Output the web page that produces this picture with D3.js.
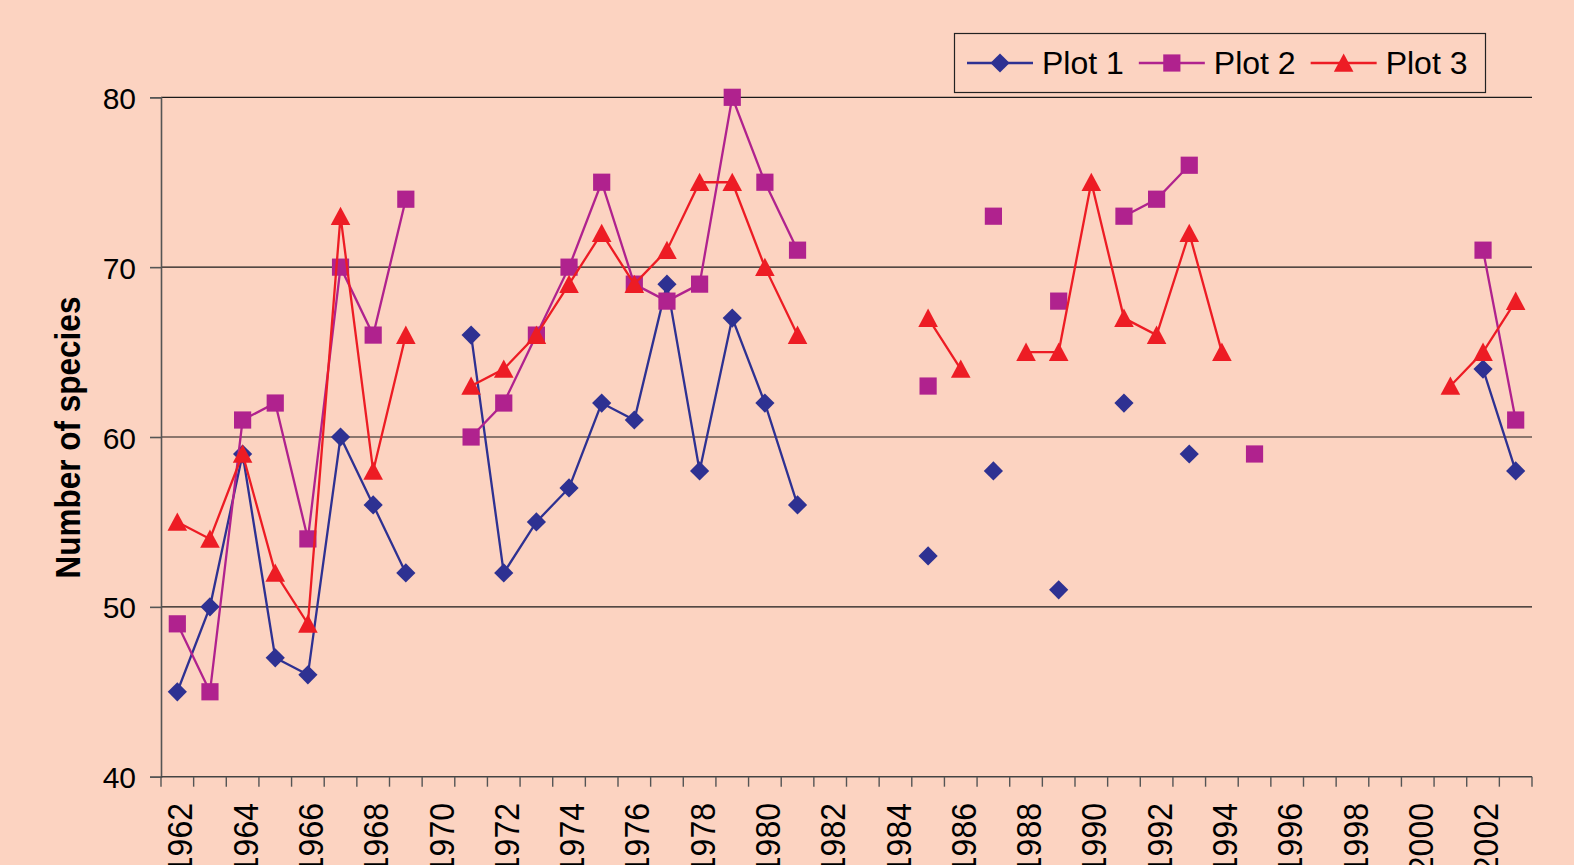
<!DOCTYPE html>
<html>
<head>
<meta charset="utf-8">
<script src="https://cdn.jsdelivr.net/npm/d3@7"></script>
<style>
  html, body { margin: 0; padding: 0; background: #FCD3C1; }
  #chart { width: 1574px; height: 865px; }
  text { font-family: "Liberation Sans", Arial, sans-serif; fill: #000; }
</style>
</head>
<body>
<div id="chart"></div>
<script>
const width = 1574;
const height = 865;

const years = d3.range(1962, 2004);

// species counts per year, null = not surveyed
const plot1 = [45, 50, 59, 47, 46, 60, 56, 52, null, 66, 52, 55, 57, 62, 61, 69, 58, 67, 62, 56,
    null, null, null, 53, null, 58, null, 51, null, 62, null, 59, null, null, null, null, null, null, null, null, 64, 58];
const plot2 = [49, 45, 61, 62, 54, 70, 66, 74, null, 60, 62, 66, 70, 75, 69, 68, 69, 80, 75, 71,
    null, null, null, 63, null, 73, null, 68, null, 73, 74, 76, null, 59, null, null, null, null, null, null, 71, 61];
const plot3 = [55, 54, 59, 52, 49, 73, 58, 66, null, 63, 64, 66, 69, 72, 69, 71, 75, 75, 70, 66,
    null, null, null, 67, 64, null, 65, 65, 75, 67, 66, 72, 65, null, null, null, null, null, null, 63, 65, 68];

const seriesNames = ["Plot 1", "Plot 2", "Plot 3"];
const seriesColors = ["#2E3192", "#B0228E", "#ED1C24"];

const yTicks = [40, 50, 60, 70, 80];
const xLabelYears = years.filter(y => (y - 1962) % 2 === 0);

// Excel-like marker shapes (size arg ignored, fixed pixel sizes)
const diamond = { draw(ctx) { const r = 9.6; ctx.moveTo(0, -r); ctx.lineTo(r, 0); ctx.lineTo(0, r); ctx.lineTo(-r, 0); ctx.closePath(); } };
const square = { draw(ctx) { const r = 8.6; ctx.rect(-r, -r, 2 * r, 2 * r); } };
const triangle = { draw(ctx) { ctx.moveTo(0, -9.5); ctx.lineTo(9.8, 8.8); ctx.lineTo(-9.8, 8.8); ctx.closePath(); } };
const seriesShapes = [diamond, square, triangle];

const svg = d3.select("#chart").append("svg")
    .attr("width", width)
    .attr("height", height);

svg.append("rect")
    .attr("width", width)
    .attr("height", height)
    .attr("fill", "#FCD3C1");

const plotLeft = 161, plotRight = 1532, plotTop = 97.3, plotBottom = 776.7;

const x = d3.scaleBand().domain(years).range([plotLeft, plotRight]).padding(0);
const y = d3.scaleLinear().domain([40, 80]).range([plotBottom, plotTop]);

// gridlines
svg.append("g")
    .selectAll("line")
    .data(yTicks.filter(t => t > 40))
    .enter().append("line")
    .attr("x1", plotLeft)
    .attr("x2", plotRight)
    .attr("y1", d => y(d))
    .attr("y2", d => y(d))
    .attr("stroke", "#1a1a1a")
    .attr("stroke-width", 1.2);

// y axis
const yAxis = svg.append("g")
    .attr("transform", `translate(${plotLeft},0)`)
    .call(d3.axisLeft(y).tickValues(yTicks).tickSize(11).tickPadding(14));
yAxis.select(".domain").attr("stroke", "#555").attr("stroke-width", 1.6);
yAxis.selectAll(".tick line").attr("stroke", "#555").attr("stroke-width", 1.6);
yAxis.selectAll(".tick text")
    .attr("dy", null)
    .attr("y", 11)
    .style("font-size", "30px")
    .style("font-family", "'Liberation Sans', Arial, sans-serif")
    .attr("fill", "#000");

// x axis, ticks at category boundaries
const xAxisG = svg.append("g").attr("class", "x-axis");
xAxisG.append("line")
    .attr("x1", plotLeft).attr("x2", plotRight)
    .attr("y1", plotBottom).attr("y2", plotBottom)
    .attr("stroke", "#444").attr("stroke-width", 1.6);
xAxisG.selectAll(".tk")
    .data(years.concat([2004]))
    .enter().append("line")
    .attr("class", "tk")
    .attr("x1", d => d === 2004 ? plotRight : x(d))
    .attr("x2", d => d === 2004 ? plotRight : x(d))
    .attr("y1", plotBottom)
    .attr("y2", plotBottom + 10)
    .attr("stroke", "#555")
    .attr("stroke-width", 1.4);
xAxisG.selectAll(".lbl")
    .data(xLabelYears)
    .enter().append("text")
    .attr("class", "lbl")
    .attr("text-anchor", "end")
    .attr("dy", "0.36em")
    .style("font-size", "32px")
    .attr("transform", d => `translate(${x(d) + x.bandwidth() / 2 + 2.7},803) rotate(-90) scale(1,1.08)`)
    .text(d => d);

// y axis title
svg.append("text")
    .attr("text-anchor", "middle")
    .attr("transform", "translate(80,437.5) rotate(-90) scale(1,1.1)")
    .style("font-size", "31.5px")
    .style("font-weight", "bold")
    .text("Number of species");

// series
const allSeries = [plot1, plot2, plot3].map((vals, i) => ({
    name: seriesNames[i],
    color: seriesColors[i],
    shape: seriesShapes[i],
    values: years.map((yr, j) => ({ year: yr, v: vals[j] }))
}));

const line = d3.line()
    .defined(d => d.v != null)
    .x(d => x(d.year) + x.bandwidth() / 2)
    .y(d => y(d.v));

allSeries.forEach((s, i) => {
    const g = svg.append("g");
    g.append("path")
        .datum(s.values)
        .attr("d", line)
        .attr("fill", "none")
        .attr("stroke", s.color)
        .attr("stroke-width", 2.3);
    g.selectAll("path.mk")
        .data(s.values.filter(d => d.v != null))
        .enter().append("path")
        .attr("class", "mk")
        .attr("d", d3.symbol().type(s.shape))
        .attr("transform", d => `translate(${x(d.year) + x.bandwidth() / 2},${y(d.v)})`)
        .attr("fill", s.color);
});

// legend
const legend = svg.append("g");
legend.append("rect")
    .attr("x", 954.5).attr("y", 33.5)
    .attr("width", 531).attr("height", 59)
    .attr("fill", "none")
    .attr("stroke", "#222")
    .attr("stroke-width", 1.2);

let lx = 967;
allSeries.forEach((s, i) => {
    const g = legend.append("g").attr("transform", `translate(${lx},63)`);
    g.append("line")
        .attr("x1", 0).attr("x2", 66)
        .attr("stroke", s.color).attr("stroke-width", 2.3);
    g.append("path")
        .attr("d", d3.symbol().type(s.shape))
        .attr("transform", "translate(33,0)")
        .attr("fill", s.color);
    const t = g.append("text")
        .attr("x", 75)
        .attr("y", 10.5)
        .style("font-size", "32px")
        .text(s.name);
    lx += 75 + t.node().getComputedTextLength() + 15;
});
</script>
</body>
</html>
